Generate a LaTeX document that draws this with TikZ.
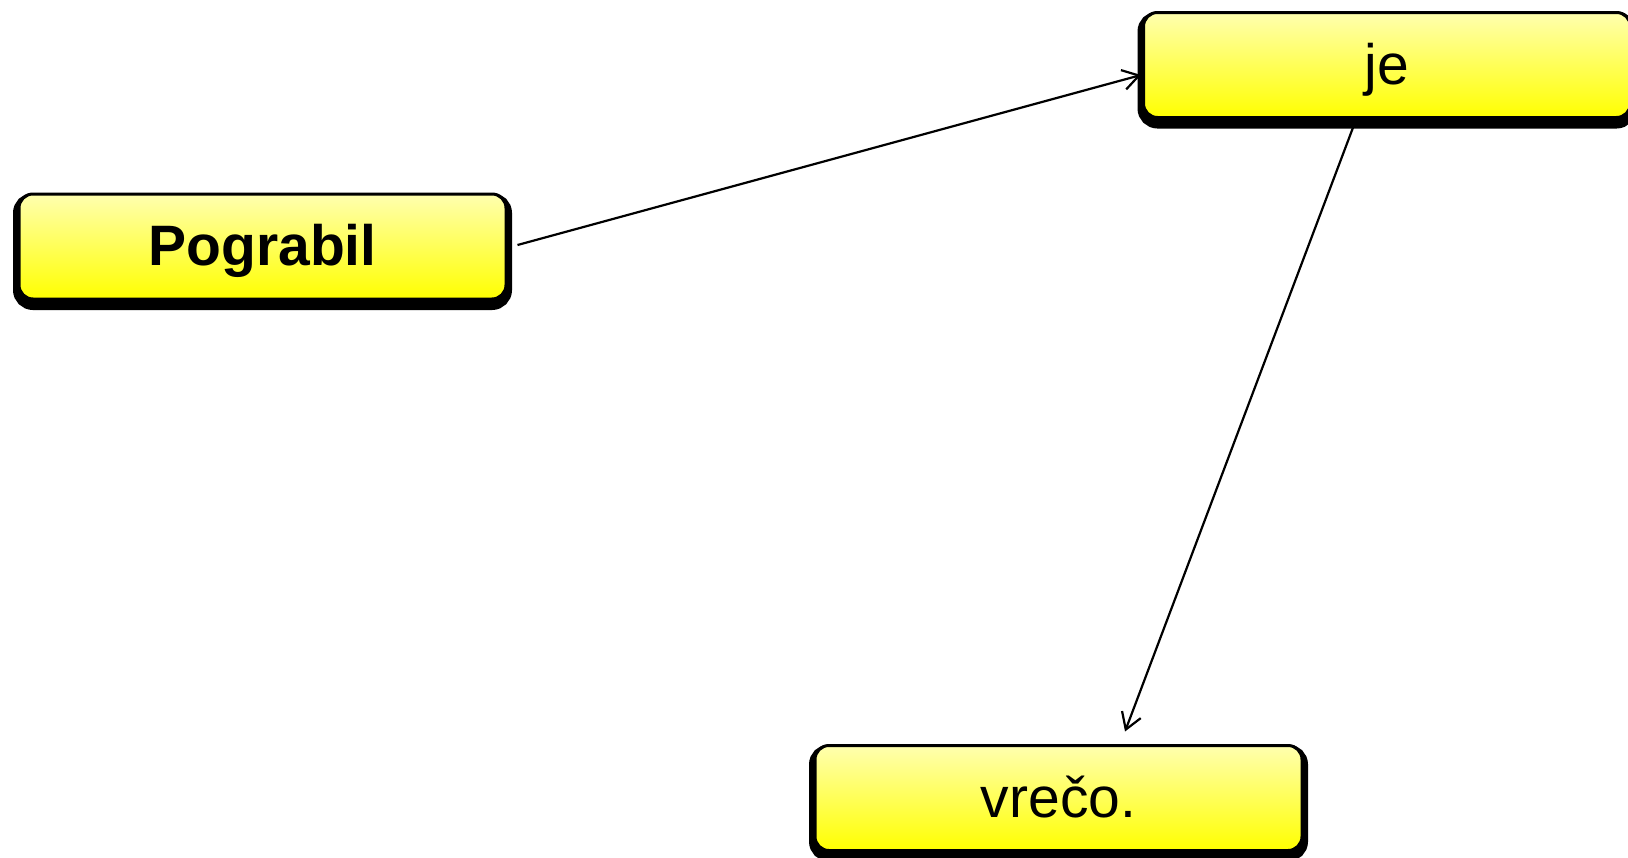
\documentclass[tikz,border=0pt]{standalone}
\usepackage{fontspec}
\setmainfont{Liberation Sans}
\usetikzlibrary{arrows.meta}
\definecolor{boxtop}{RGB}{255,255,175}
\definecolor{boxbot}{RGB}{255,255,0}
\tikzset{
  wordbox/.style={draw=black, line width=3pt, rounded corners=14pt,
    top color=boxtop, bottom color=boxbot,
    minimum width=487pt, minimum height=105pt, inner sep=0pt,
    text height=38pt, text depth=0pt,
    font=\fontsize{57}{66}\selectfont,
    preaction={draw=black, fill=black, line width=12pt, transform canvas={yshift=-5pt}}},
  link/.style={draw=black, line width=2.2pt, -{Straight Barb[length=16pt,width=20pt]}}
}
\begin{document}
\begin{tikzpicture}[x=1pt,y=-1pt]
\useasboundingbox (0,0) rectangle (1628,857);
\clip (0,0) rectangle (1628,857);
\node[wordbox, font=\fontsize{57}{66}\selectfont\bfseries] (pog) at (262.5,246.5) {Pograbil};
\node[wordbox] (je) at (1387,65) {je};
\node[wordbox] (vreco) at (1058.5,798) {vrečo.};
\draw[link] ([xshift=10pt,yshift=1.5pt]pog.east) -- ([xshift=-1pt,yshift=-10pt]je.west);
\draw[link] ([xshift=-30pt,yshift=2pt]je.south) -- ([xshift=66.5pt,yshift=12.5pt]vreco.north);
\end{tikzpicture}
\end{document}
